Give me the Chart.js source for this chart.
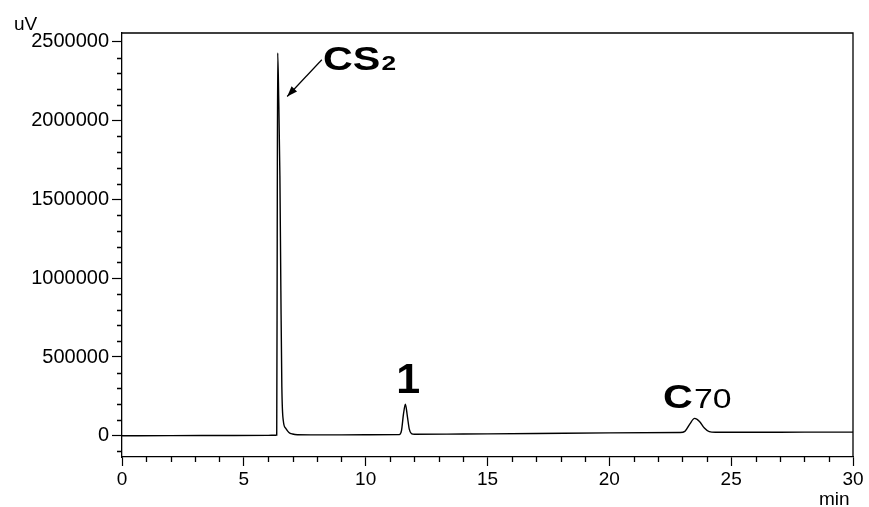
<!DOCTYPE html>
<html>
<head>
<meta charset="utf-8">
<script src="https://cdn.jsdelivr.net/npm/chart.js@4"></script>
<style>
  html, body { margin: 0; padding: 0; background: #fff; }
  #wrap { width: 869px; height: 507px; }
</style>
</head>
<body>
<div id="wrap"><canvas id="chart" width="869" height="507"></canvas></div>
<script>
// retention time (min) and detector signal (uV)
const times = [0, 2, 4, 6, 6.30, 6.35, 6.37, 6.39, 6.43, 6.48, 6.52, 6.56, 6.62, 6.72, 6.85, 7.0, 7.2, 8, 10,
  11.38, 11.47, 11.55, 11.63, 11.71, 11.79, 11.88, 12.0, 14, 17, 20, 22.9, 23.1, 23.3, 23.5, 23.7, 23.9, 24.1, 24.35, 26, 28, 30];
const signal = [0, 600, 1500, 2500, 3000, 3500, 1250000, 2430000, 2150000, 1650000, 920000, 310000, 95000, 47000, 21000, 11000, 6500, 5500, 6000,
  7000, 32000, 135000, 200000, 125000, 42000, 13000, 9000, 11000, 14000, 18000, 21000, 28000, 74000, 110000, 91000, 49000, 26000, 22000, 22000, 23000, 23000];

// axis ranges and tick labels
const xRange = [0, 30];
const yRange = [-135000, 2557000];
const xTicks = [0, 5, 10, 15, 20, 25, 30];
const yTicks = [0, 500000, 1000000, 1500000, 2000000, 2500000];
const xMinor = 1, yMinor = 100000;

// peak labels: [text, subscript, x (min), y (uV)]
const peakLabels = [
  ["CS", "2", 8.25, 2323000],
  ["1", "", 11.25, 271000],
  ["C", "70", 22.2, 176000]
];

const FONT = "'Liberation Sans', Arial, sans-serif";

/* 小刻度、外框和峰标注 */
const extras = {
  id: "extras",
  afterDraw(chart) {
    const ctx = chart.ctx;
    const xs = chart.scales.x, ys = chart.scales.y;
    const a = chart.chartArea;
    ctx.save();
    ctx.strokeStyle = "#000";
    ctx.lineWidth = 1.3;

    // top and right edges of the frame
    ctx.beginPath();
    ctx.moveTo(a.left, a.top);
    ctx.lineTo(a.right, a.top);
    ctx.lineTo(a.right, a.bottom);
    ctx.stroke();

    // minor ticks
    ctx.beginPath();
    for (let t = xRange[0] + xMinor; t < xRange[1]; t += xMinor) {
      if (xTicks.indexOf(t) >= 0) continue;
      const px = Math.round(xs.getPixelForValue(t)) + 0.5;
      ctx.moveTo(px, a.bottom);
      ctx.lineTo(px, a.bottom + 5);
    }
    for (let v = -yMinor; v < yRange[1]; v += yMinor) {
      if (yTicks.indexOf(v) >= 0) continue;
      const py = Math.round(ys.getPixelForValue(v)) + 0.5;
      ctx.moveTo(a.left - 5, py);
      ctx.lineTo(a.left, py);
    }
    ctx.stroke();

    // axis units
    ctx.fillStyle = "#000";
    ctx.font = "19px " + FONT;
    ctx.textBaseline = "alphabetic";
    ctx.textAlign = "left";
    ctx.fillText("uV", 14, 30);
    ctx.fillText("min", 819, 505);

    // peak names
    peakLabels.forEach(function (p) {
      const px = xs.getPixelForValue(p[2]);
      const py = ys.getPixelForValue(p[3]);
      ctx.save();
      ctx.translate(px, py);
      if (p[0] === "1") {
        ctx.font = "bold 43px " + FONT;
      } else {
        ctx.font = "bold 33px " + FONT;
        ctx.scale(1.25, 1);
      }
      ctx.fillText(p[0], 0, 0);
      const w = ctx.measureText(p[0]).width;
      if (p[1]) {
        ctx.font = (p[0] === "CS" ? "bold 21px " : "27px ") + FONT;
        ctx.fillText(p[1], w + 1, 0);
      }
      ctx.restore();
    });

    // arrow pointing at the CS2 peak
    const x0 = xs.getPixelForValue(8.2), y0 = ys.getPixelForValue(2387000);
    const x1 = xs.getPixelForValue(6.78), y1 = ys.getPixelForValue(2154000);
    ctx.lineWidth = 1.2;
    ctx.beginPath();
    ctx.moveTo(x0, y0);
    ctx.lineTo(x1, y1);
    ctx.stroke();
    const ang = Math.atan2(y1 - y0, x1 - x0);
    ctx.beginPath();
    ctx.moveTo(x1, y1);
    ctx.lineTo(x1 - 11 * Math.cos(ang - 0.35), y1 - 11 * Math.sin(ang - 0.35));
    ctx.lineTo(x1 - 11 * Math.cos(ang + 0.35), y1 - 11 * Math.sin(ang + 0.35));
    ctx.closePath();
    ctx.fill();

    ctx.restore();
  }
};

const points = times.map(function (t, i) { return { x: t, y: signal[i] }; });

function fixedTicks(list) {
  return function (scale) {
    scale.ticks = list.map(function (v) { return { value: v }; });
  };
}

const config = {
  type: "line",
  data: {
    datasets: [{
      data: points,
      borderColor: "#000",
      borderWidth: 1.4,
      pointRadius: 0,
      fill: false,
      cubicInterpolationMode: "monotone"
    }]
  },
  options: {
    responsive: false,
    animation: false,
    clip: false,
    layout: { padding: { top: 33, right: 16, left: 0, bottom: 0 } },
    plugins: { legend: { display: false }, tooltip: { enabled: false } },
    scales: {
      x: {
        type: "linear",
        min: xRange[0],
        max: xRange[1],
        afterBuildTicks: fixedTicks(xTicks),
        afterFit: function (s) { s.height = 50; },
        border: { display: true, color: "#000", width: 1.3 },
        grid: { drawOnChartArea: false, drawTicks: true, tickLength: 9, color: "#000", tickWidth: 1.2 },
        ticks: { color: "#000", padding: 2, maxRotation: 0, autoSkip: false,
          callback: function (v) { return String(v); },
          font: { family: FONT, size: 19 } }
      },
      y: {
        type: "linear",
        min: yRange[0],
        max: yRange[1],
        afterBuildTicks: fixedTicks(yTicks),
        afterFit: function (s) { s.width = 122; },
        border: { display: true, color: "#000", width: 1.3 },
        grid: { drawOnChartArea: false, drawTicks: true, tickLength: 10, color: "#000", tickWidth: 1.2 },
        ticks: { color: "#000", padding: 3, autoSkip: false,
          callback: function (v) { return String(v); },
          font: { family: FONT, size: 20 } }
      }
    }
  },
  plugins: [extras]
};

new Chart(document.getElementById("chart"), config);
</script>
</body>
</html>
